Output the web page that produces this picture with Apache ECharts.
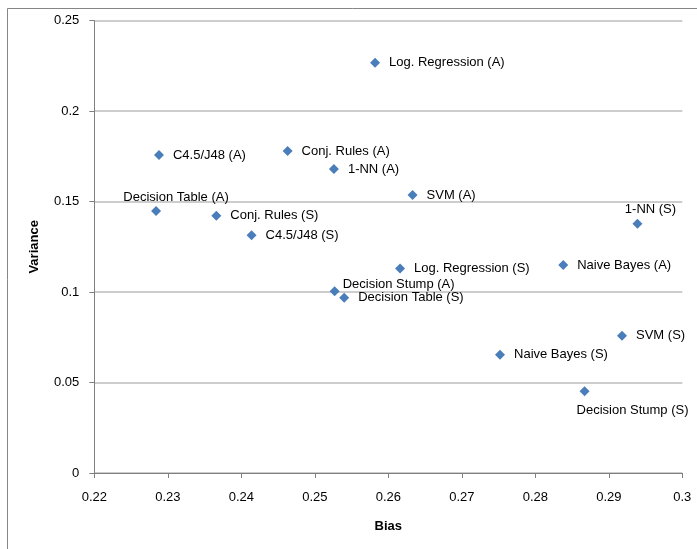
<!DOCTYPE html>
<html>
<head>
<meta charset="utf-8">
<script src="https://cdn.jsdelivr.net/npm/echarts@6/dist/echarts.min.js"></script>
<style>html,body{margin:0;padding:0;background:#fff;}#c{width:697px;height:549px;}</style>
</head>
<body>
<div id="c"></div>
<script>
const names = ['Log. Regression (A)','C4.5/J48 (A)','Conj. Rules (A)','1-NN (A)','Decision Table (A)','Conj. Rules (S)','C4.5/J48 (S)','SVM (A)','1-NN (S)','Log. Regression (S)','Naive Bayes (A)','Decision Stump (A)','Decision Table (S)','SVM (S)','Naive Bayes (S)','Decision Stump (S)'];
const bias = [0.2582,0.2288,0.2463,0.2526,0.2284,0.2366,0.2414,0.2633,0.2939,0.2616,0.2838,0.2527,0.2540,0.2918,0.2752,0.2867];
const variance = [0.2268,0.1758,0.1780,0.1680,0.1448,0.1422,0.1314,0.1537,0.1378,0.1131,0.1150,0.1004,0.0969,0.0759,0.0654,0.0452];
const xTicks = [0.22,0.23,0.24,0.25,0.26,0.27,0.28,0.29,0.3];
const yTicks = [0,0.05,0.1,0.15,0.2,0.25];

// label placement styles (not data): position relative to the marker's box
const labelStyle = {
  'Decision Table (A)': {position:[25,-9], align:'center', verticalAlign:'middle'},
  'Decision Stump (A)': {position:[13,-2], align:'left', verticalAlign:'middle'},
  '1-NN (S)': {position:[18,-9], align:'center', verticalAlign:'middle'},
  'Decision Stump (S)': {position:[-3,24], align:'left', verticalAlign:'middle'}
};

const data = names.map((n,i)=>{
  const d = {name:n, value:[bias[i], variance[i]]};
  if (labelStyle[n]) d.label = Object.assign({show:true}, labelStyle[n]);
  return d;
});

const FONT = '"Liberation Sans", Arial, sans-serif';
const chart = echarts.init(document.getElementById('c'), null, {renderer:'canvas'});
chart.setOption({
  animation:false,
  backgroundColor:'#fff',
  graphic:[{type:'rect', shape:{x:7.5,y:8.5,width:720,height:600}, style:{fill:'none', stroke:'#868686', lineWidth:1}, silent:true, z:-10}],
  grid:{left:94.3, right:14.7, top:20.7, bottom:76},
  xAxis:{
    type:'value', min:xTicks[0], max:xTicks[xTicks.length-1], interval:0.01,
    name:'Bias', nameLocation:'middle', nameGap:47,
    nameTextStyle:{fontFamily:FONT, fontSize:13, fontWeight:'bold', color:'#000'},
    axisLine:{show:true, lineStyle:{color:'#808080', width:1}},
    axisTick:{show:true, inside:false, length:5, lineStyle:{color:'#808080'}},
    axisLabel:{fontFamily:FONT, fontSize:13, color:'#000', margin:18,
      formatter:v=>{const t=xTicks.find(k=>Math.abs(k-v)<1e-9); return t===undefined?'':String(t);}},
    splitLine:{show:false}
  },
  yAxis:{
    type:'value', min:yTicks[0], max:yTicks[yTicks.length-1], interval:0.05,
    name:'Variance', nameLocation:'middle', nameGap:53, nameRotate:90,
    nameTextStyle:{fontFamily:FONT, fontSize:13, fontWeight:'bold', color:'#000'},
    axisLine:{show:true, lineStyle:{color:'#808080', width:1}},
    axisTick:{show:true, inside:false, length:5, lineStyle:{color:'#808080'}},
    axisLabel:{fontFamily:FONT, fontSize:13, color:'#000', margin:15,
      formatter:v=>{const t=yTicks.find(k=>Math.abs(k-v)<1e-9); return t===undefined?'':String(t);}},
    splitLine:{show:true, lineStyle:{color:'#bdbdbd', width:1.5}}
  },
  series:[{
    type:'scatter',
    symbol:'diamond',
    symbolSize:[10,10],
    itemStyle:{color:'#4a7ebb', opacity:1},
    label:{show:true, position:'right', distance:9, formatter:'{b}', fontFamily:FONT, fontSize:13, color:'#000'},
    data:data
  }]
});
</script>
</body>
</html>
